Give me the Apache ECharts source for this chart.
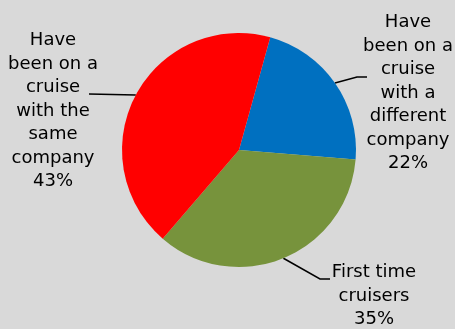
<!DOCTYPE html>
<html>
<head>
<meta charset="utf-8">
<script src="https://cdn.jsdelivr.net/npm/echarts@6/dist/echarts.min.js"></script>
<style>
  html, body { margin: 0; padding: 0; background: #d9d9d9; }
  #chart { width: 455px; height: 329px; }
</style>
</head>
<body>
<div id="chart"></div>
<script>
// slices, clockwise from the top
const categories = [
  'Have\nbeen on a\ncruise\nwith a\ndifferent\ncompany',
  'First time\ncruisers',
  'Have\nbeen on a\ncruise\nwith the\nsame\ncompany'
]
const shares = [22, 35, 43]
const colors = ['#0070c0', '#77933c', '#ff0000']

const chart = echarts.init(document.getElementById('chart'), null, { renderer: 'canvas' })

// label block centre, leader bend and leader end for each slice
const labelSpots = [
  { x: 408, y: 93, bend: [357, 77], end: [367, 77] },
  { x: 374, y: 296, bend: [320, 279], end: [330, 279] },
  { x: 53, y: 111, bend: null, end: [89, 94] }
]

chart.setOption({
  backgroundColor: '#d9d9d9',
  animation: false,
  series: [{
    type: 'pie',
    center: [239, 150],
    radius: [0, 117],
    startAngle: 74.5,
    clockwise: true,
    data: categories.map((name, i) => ({
      name: name,
      value: shares[i],
      itemStyle: { color: colors[i] }
    })),
    label: {
      show: true,
      position: 'outside',
      formatter: '{b}\n{c}%',
      color: '#000',
      fontFamily: 'DejaVu Sans',
      fontSize: 18,
      lineHeight: 23.5,
      align: 'center',
      overflow: 'none'
    },
    labelLine: {
      show: true,
      lineStyle: { color: '#000', width: 1.5 }
    },
    labelLayout: function(params) {
      const spot = labelSpots[params.dataIndex]
      const start = params.labelLinePoints[0]
      const bend = spot.bend || [(start[0] + spot.end[0]) / 2, (start[1] + spot.end[1]) / 2]
      return {
        x: spot.x,
        y: spot.y,
        align: 'center',
        verticalAlign: 'middle',
        labelLinePoints: [start, bend, spot.end]
      }
    },
    emphasis: { disabled: true }
  }]
})
</script>
</body>
</html>
